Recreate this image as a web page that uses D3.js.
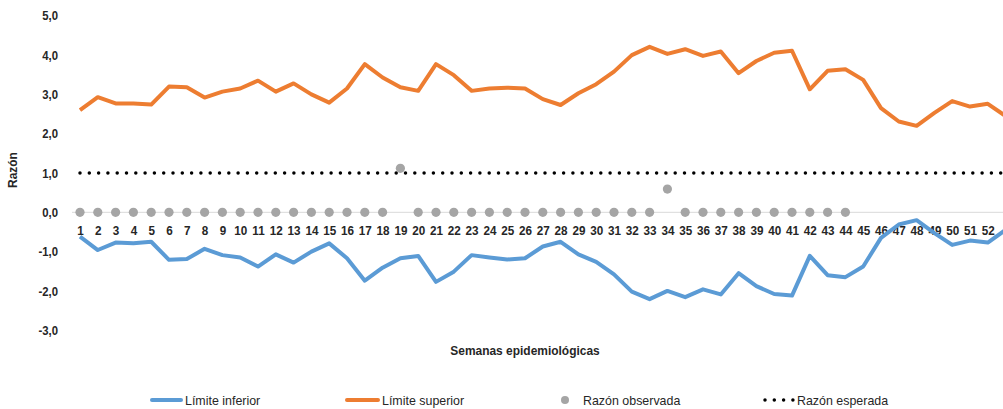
<!DOCTYPE html>
<html><head><meta charset="utf-8">
<script src="https://cdn.jsdelivr.net/npm/d3@7"></script>
<style>
body{margin:0;background:#fff;}
text{font-family:"Liberation Sans",Arial,sans-serif;}
</style></head><body>
<svg id="c" width="1003" height="409"></svg>
<script>
const weeks = d3.range(1, 54);
const weekLabels = d3.range(1, 53).map(String);
const yTicks = [5, 4, 3, 2, 1, 0, -1, -2, -3];
const limiteSuperior = [2.60,2.93,2.77,2.77,2.74,3.20,3.18,2.92,3.07,3.15,3.35,3.07,3.28,3.00,2.79,3.15,3.77,3.43,3.18,3.09,3.77,3.49,3.09,3.15,3.17,3.15,2.88,2.73,3.03,3.26,3.58,4.00,4.21,4.03,4.15,3.98,4.09,3.54,3.85,4.06,4.11,3.13,3.60,3.64,3.37,2.65,2.31,2.20,2.53,2.83,2.69,2.76,2.45];
const limiteInferior = [-0.62,-0.96,-0.77,-0.79,-0.75,-1.21,-1.19,-0.93,-1.09,-1.15,-1.38,-1.07,-1.28,-1.00,-0.79,-1.17,-1.74,-1.41,-1.17,-1.11,-1.77,-1.51,-1.09,-1.15,-1.20,-1.17,-0.87,-0.75,-1.07,-1.26,-1.58,-2.02,-2.21,-2.00,-2.16,-1.96,-2.09,-1.55,-1.88,-2.08,-2.12,-1.11,-1.60,-1.65,-1.38,-0.65,-0.31,-0.20,-0.53,-0.83,-0.72,-0.77,-0.45];
const razonObservada = [0,0,0,0,0,0,0,0,0,0,0,0,0,0,0,0,0,0,1.12,0,0,0,0,0,0,0,0,0,0,0,0,0,0,0.59,0,0,0,0,0,0,0,0,0,0,null,null,null,null,null,null,null,null,null];
const razonEsperada = weeks.map(() => 1);

const svg = d3.select("#c");
const x = d3.scaleLinear().domain([1, 53]).range([80, 80 + 52 * 17.8]);
const y = d3.scaleLinear().domain([-3, 5]).range([330.2, 15.8]);
const TXT = "#262626";

// zero gridline
svg.append("line").attr("x1", 72).attr("x2", 1003).attr("y1", y(0)).attr("y2", y(0))
  .attr("stroke", "#d9d9d9").attr("stroke-width", 1);

// y axis labels
const yAxis = d3.axisLeft(y).tickValues(yTicks).tickSize(0).tickPadding(0)
  .tickFormat(d => d3.format(".1f")(d).replace(".", ",").replace("−", "-"));
const ga = svg.append("g").attr("transform", "translate(58,0)").call(yAxis);
ga.select(".domain").remove();
ga.selectAll("text").attr("font-size", 13).attr("font-weight", "bold").attr("fill", TXT)
  .attr("font-family", '"Liberation Sans",Arial,sans-serif').attr("transform", "scale(0.87,1)");

// x labels
const xAxis = d3.axisBottom(x).tickValues(d3.range(1, 53)).tickSize(0).tickPadding(0)
  .tickFormat((d, i) => weekLabels[i]);
const gx = svg.append("g").attr("transform", `translate(0,${y(0) + 13})`).call(xAxis);
gx.select(".domain").remove();
gx.selectAll("text").attr("font-size", 13).attr("font-weight", "bold").attr("fill", TXT)
  .attr("font-family", '"Liberation Sans",Arial,sans-serif').attr("transform", "scale(0.9,1)");

// lines
const line = d3.line().defined(d => d[1] != null).x(d => x(d[0])).y(d => y(d[1]));
svg.append("path").datum(weeks.map((w, i) => [w, limiteInferior[i]]))
  .attr("d", line).attr("fill", "none").attr("stroke", "#5B9BD5").attr("stroke-width", 4).attr("stroke-linejoin", "round");
svg.append("path").datum(weeks.map((w, i) => [w, limiteSuperior[i]]))
  .attr("d", line).attr("fill", "none").attr("stroke", "#ED7D31").attr("stroke-width", 4).attr("stroke-linejoin", "round");
svg.append("path").datum(weeks.map((w, i) => [w, razonEsperada[i]]))
  .attr("d", line).attr("fill", "none").attr("stroke", "#000").attr("stroke-width", 3.5)
  .attr("stroke-linecap", "round").attr("stroke-dasharray", "0,9.3");

// observed dots
svg.append("g").selectAll("circle").data(weeks.map((w, i) => [w, razonObservada[i]]).filter(d => d[1] != null))
  .join("circle").attr("cx", d => x(d[0])).attr("cy", d => y(d[1])).attr("r", 4.6).attr("fill", "#A5A5A5");

// axis titles
svg.append("text").attr("transform", "translate(17,170) rotate(-90) scale(0.92,1)").attr("text-anchor", "middle")
  .attr("font-size", 13).attr("font-weight", "bold").attr("fill", TXT).text("Razón");
svg.append("text").attr("transform", "translate(525,355) scale(0.92,1)").attr("text-anchor", "middle")
  .attr("font-size", 13).attr("font-weight", "bold").attr("fill", TXT).text("Semanas epidemiológicas");

// legend
const ly = 400;
const lg = svg.append("g").attr("font-size", 13.5).attr("fill", TXT);
const ltext = (x0, s) => lg.append("text").attr("transform", `translate(${x0},${ly + 5}) scale(0.92,1)`).text(s);
lg.append("line").attr("x1", 152).attr("x2", 181).attr("y1", ly).attr("y2", ly).attr("stroke", "#5B9BD5").attr("stroke-width", 4).attr("stroke-linecap", "round");
ltext(185, "Límite inferior");
lg.append("line").attr("x1", 347).attr("x2", 378).attr("y1", ly).attr("y2", ly).attr("stroke", "#ED7D31").attr("stroke-width", 4).attr("stroke-linecap", "round");
ltext(382, "Límite superior");
lg.append("circle").attr("cx", 565).attr("cy", ly).attr("r", 4).attr("fill", "#A5A5A5");
ltext(583, "Razón observada");
lg.append("line").attr("x1", 765).attr("x2", 793).attr("y1", ly).attr("y2", ly).attr("stroke", "#000").attr("stroke-width", 3.5).attr("stroke-linecap", "round").attr("stroke-dasharray", "0,9.3");
ltext(797, "Razón esperada");
</script>
</body></html>
